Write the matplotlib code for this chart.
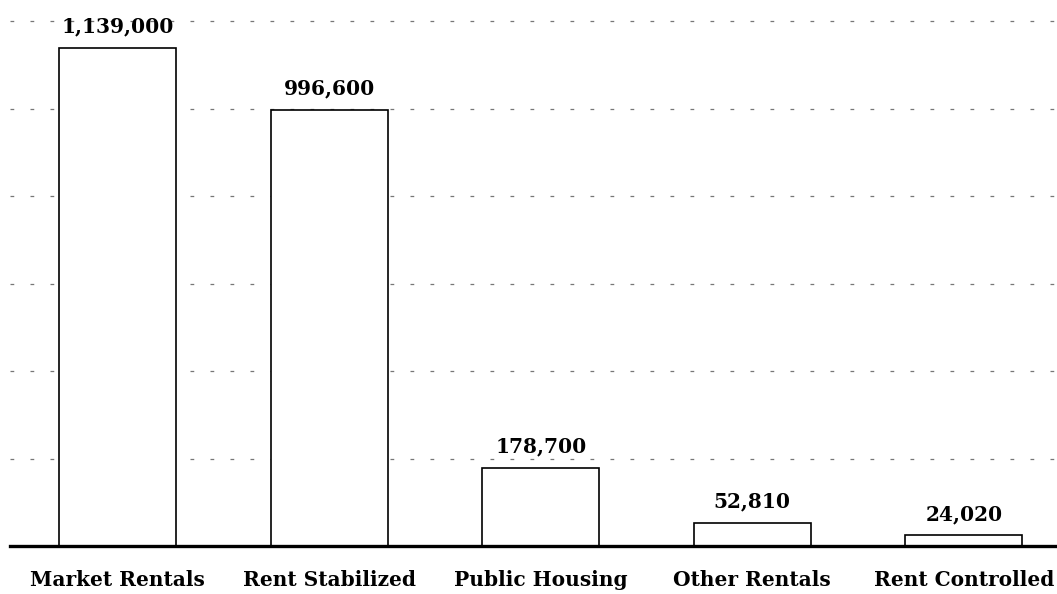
import matplotlib
matplotlib.use("Agg")
import matplotlib.pyplot as plt

categories = ["Market Rentals", "Rent Stabilized", "Public Housing", "Other Rentals", "Rent Controlled"]
units = [1139000, 996600, 178700, 52810, 24020]
labels = ["1,139,000", "996,600", "178,700", "52,810", "24,020"]
grid_vals = [200000, 400000, 600000, 800000, 1000000, 1200000]

plt.rcParams["font.family"] = ["DejaVu Serif"]

fig = plt.figure(figsize=(10.57, 5.94), dpi=100)
# axes placed in figure pixels: x 10..1057, y 21..546
ax = fig.add_axes([10 / 1057, (594 - 546) / 594, 1047 / 1057, (546 - 21) / 594])

x = list(range(len(categories)))
ax.bar(x, units, width=0.553, color="white", edgecolor="black", linewidth=1.2, zorder=3)

for v in grid_vals:
    ax.axhline(v, color="#777777", linewidth=0.9, linestyle=(0, (3, 13)), zorder=1, clip_on=False)
ax.axhline(0, color="black", linewidth=2.4, zorder=4, clip_on=False)

for xi, v, lab in zip(x, units, labels):
    ax.text(xi, v + 26000, lab, ha="center", va="bottom", fontsize=14.5,
            fontweight="bold", color="black", zorder=5)

ax.set_xlim(-0.508, 4.44)
ax.set_ylim(0, 1200000)
ax.set_xticks(x)
ax.set_xticklabels(categories, fontsize=14.5, fontweight="bold")
ax.tick_params(axis="x", length=0, pad=17)
ax.set_yticks([])
for s in ax.spines.values():
    s.set_visible(False)

fig.savefig("out.png", dpi=100, facecolor="white")
